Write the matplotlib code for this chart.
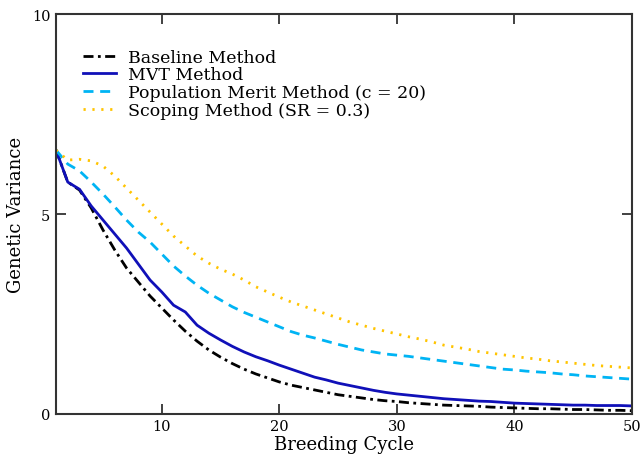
import numpy as np
import matplotlib
matplotlib.use("Agg")
import matplotlib.pyplot as plt

cycles = np.arange(1, 51)

baseline = [6.6, 5.8, 5.6, 5.15, 4.6, 4.1, 3.65, 3.3, 2.95, 2.65,
            2.35, 2.07, 1.82, 1.6, 1.42, 1.26, 1.12, 1.0, 0.9, 0.8,
            0.72, 0.66, 0.6, 0.54, 0.48, 0.44, 0.4, 0.36, 0.33, 0.31,
            0.28, 0.26, 0.24, 0.22, 0.21, 0.2, 0.19, 0.17, 0.16, 0.15,
            0.14, 0.13, 0.13, 0.12, 0.11, 0.11, 0.1, 0.09, 0.09, 0.08]

mvt = [6.6, 5.8, 5.62, 5.2, 4.85, 4.5, 4.15, 3.75, 3.35, 3.05,
       2.72, 2.55, 2.22, 2.02, 1.85, 1.69, 1.55, 1.43, 1.33, 1.22,
       1.12, 1.02, 0.92, 0.85, 0.77, 0.71, 0.65, 0.59, 0.54, 0.5,
       0.47, 0.44, 0.41, 0.38, 0.36, 0.34, 0.32, 0.31, 0.29, 0.27,
       0.26, 0.25, 0.24, 0.23, 0.22, 0.22, 0.21, 0.21, 0.21, 0.2]

pop_merit = [6.6, 6.25, 6.08, 5.8, 5.5, 5.18, 4.85, 4.55, 4.3, 4.0,
             3.7, 3.45, 3.22, 3.02, 2.85, 2.68, 2.54, 2.42, 2.3, 2.18,
             2.06, 1.97, 1.9, 1.82, 1.74, 1.67, 1.6, 1.55, 1.5, 1.47,
             1.44, 1.4, 1.36, 1.32, 1.28, 1.24, 1.2, 1.16, 1.12, 1.1,
             1.07, 1.05, 1.03, 1.0, 0.98, 0.95, 0.93, 0.91, 0.89, 0.87]

scoping = [6.6, 6.35, 6.37, 6.33, 6.2, 5.95, 5.65, 5.35, 5.05, 4.75,
           4.45, 4.2, 3.95, 3.77, 3.62, 3.5, 3.35, 3.18, 3.05, 2.92,
           2.8, 2.7, 2.6, 2.5, 2.4, 2.3, 2.22, 2.14, 2.07, 2.0,
           1.93, 1.87, 1.8, 1.72, 1.67, 1.62, 1.56, 1.52, 1.48, 1.44,
           1.4, 1.37, 1.33, 1.3, 1.27, 1.24, 1.21, 1.19, 1.17, 1.15]

plt.rcParams['font.family'] = ['DejaVu Serif']

fig = plt.figure(figsize=(6.4, 4.6), dpi=100)
ax = fig.add_axes([0.0875, 0.098, 0.9, 0.869])

ax.plot(cycles, baseline, color='black', lw=2, dashes=(3.6, 1.6, 1, 1.6), label='Baseline Method')
ax.plot(cycles, mvt, color='#1010b8', lw=2, label='MVT Method')
ax.plot(cycles, pop_merit, color='#00b4f4', lw=2, dashes=(3.6, 2.4), label='Population Merit Method (c = 20)')
ax.plot(cycles, scoping, color='#ffc400', lw=2, dashes=(0.8, 2.4), label='Scoping Method (SR = 0.3)')

ax.set_xlim(1, 50)
ax.set_ylim(0, 10)
ax.set_xticks([10, 20, 30, 40, 50])
ax.set_yticks([0, 5, 10])
ax.tick_params(direction='in', length=7, width=1.3, top=True, right=True,
               labelsize=10.5, colors='#333333', labelcolor='black', pad=4)
for s in ax.spines.values():
    s.set_linewidth(1.5)
    s.set_color('#333333')

ax.set_xlabel('Breeding Cycle', fontsize=13, labelpad=1)
ax.set_ylabel('Genetic Variance', fontsize=13, labelpad=5)

ax.legend(loc='upper left', frameon=False, fontsize=12.5, handlelength=1.9,
          labelspacing=0.05, handletextpad=0.7, bbox_to_anchor=(0.02, 0.953))

fig.savefig('out.png', dpi=100)
